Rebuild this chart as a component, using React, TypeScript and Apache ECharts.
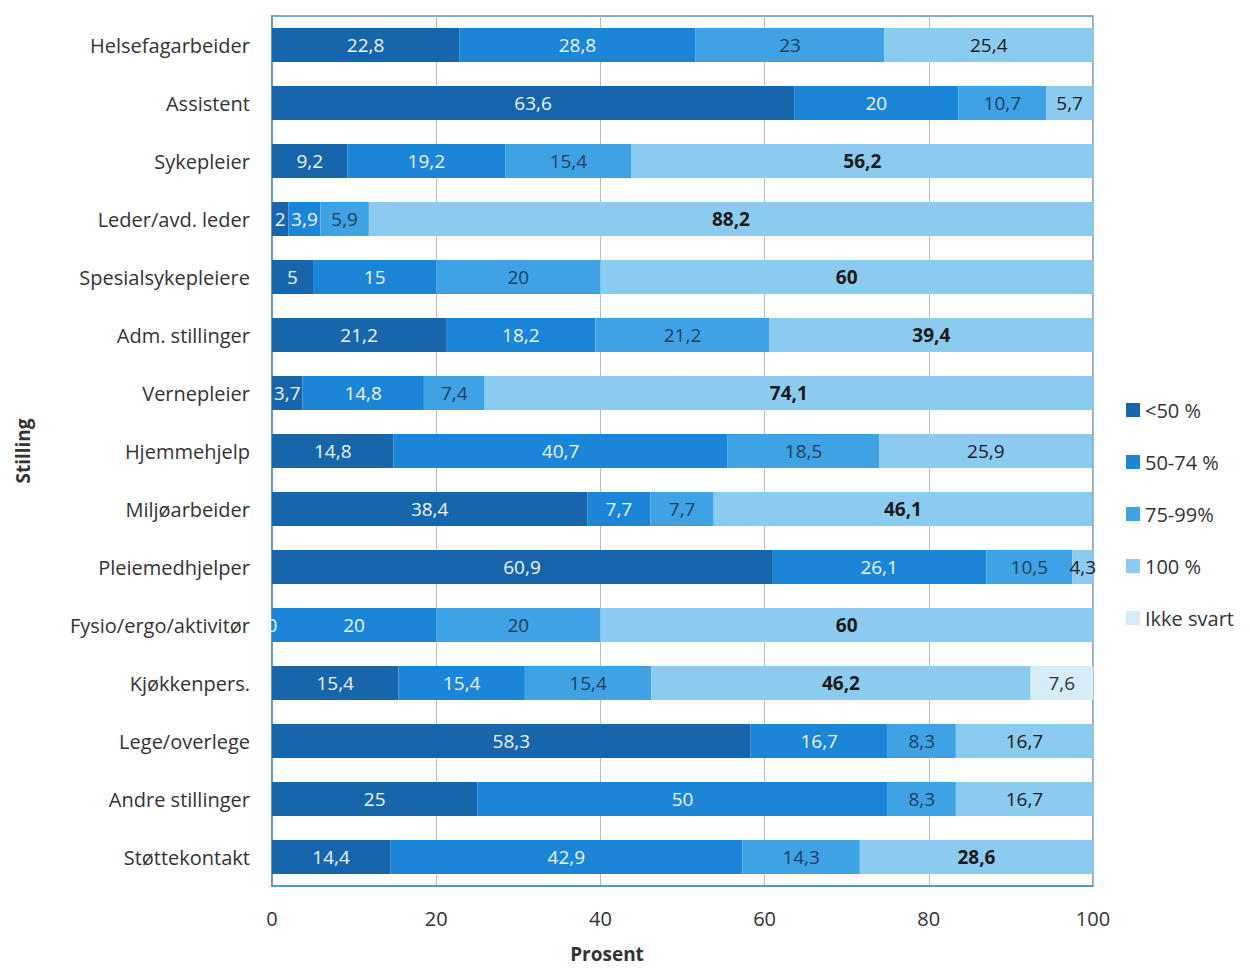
import React, { useEffect, useRef } from "react";
import * as echarts from "echarts";

const categories = [
  "Helsefagarbeider",
  "Assistent",
  "Sykepleier",
  "Leder/avd. leder",
  "Spesialsykepleiere",
  "Adm. stillinger",
  "Vernepleier",
  "Hjemmehjelp",
  "Miljøarbeider",
  "Pleiemedhjelper",
  "Fysio/ergo/aktivitør",
  "Kjøkkenpers.",
  "Lege/overlege",
  "Andre stillinger",
  "Støttekontakt",
];

const seriesNames = ["<50 %", "50-74 %", "75-99%", "100 %", "Ikke svart"];

const under50 = [22.8, 63.6, 9.2, 2, 5, 21.2, 3.7, 14.8, 38.4, 60.9, 0, 15.4, 58.3, 25, 14.4];
const p50to74 = [28.8, 20, 19.2, 3.9, 15, 18.2, 14.8, 40.7, 7.7, 26.1, 20, 15.4, 16.7, 50, 42.9];
const p75to99 = [23, 10.7, 15.4, 5.9, 20, 21.2, 7.4, 18.5, 7.7, 10.5, 20, 15.4, 8.3, 8.3, 14.3];
const p100 = [25.4, 5.7, 56.2, 88.2, 60, 39.4, 74.1, 25.9, 46.1, 4.3, 60, 46.2, 16.7, 16.7, 28.6];
const ikkeSvart = [null, null, null, null, null, null, null, null, null, null, null, 7.6, null, null, null];

const xTicks = [0, 20, 40, 60, 80, 100];
const xAxisTitle = "Prosent";
const yAxisTitle = "Stilling";

const colors = ["#1766ac", "#1b85d8", "#3ea2e4", "#8ccbf0", "#d6ecf8"];
const labelColors = ["#eef4fa", "#eef4fa", "#22405e", "#1a1a1a", "#333333"];

const FONT = "'Open Sans', 'Noto Sans', sans-serif";

export default function App() {
  const ref = useRef<HTMLDivElement>(null);
  useEffect(() => {
    if (!ref.current) return;
    const chart = echarts.init(ref.current, undefined, { renderer: "svg" });
    const all = [under50, p50to74, p75to99, p100, ikkeSvart];
    const series = all.map((arr, i) => ({
      name: seriesNames[i],
      type: "bar",
      stack: "total",
      barWidth: 34,
      data: arr.map((v) =>
        v === null
          ? "-"
          : {
              value: v,
              label: { fontWeight: i === 3 && v >= 28 ? "bold" : "normal" },
            }
      ),
      itemStyle: { color: colors[i] },
      label: {
        show: true,
        position: "inside",
        fontFamily: FONT,
        fontSize: 19,
        color: labelColors[i],
        formatter: (p: any) =>
          p.value === "-" || p.value === null || p.value === undefined
            ? ""
            : String(p.value).replace(".", ","),
      },
    }));
    chart.setOption({
      animation: false,
      textStyle: { fontFamily: FONT },
      grid: {
        left: 272,
        right: 157,
        top: 16,
        bottom: 82,
        outerBoundsMode: "none",
        containLabel: false,
        show: true,
        borderColor: "#4b93cc",
        borderWidth: 1.5,
      },
      legend: {
        orient: "vertical",
        left: 1121,
        top: 394,
        icon: "rect",
        itemWidth: 14,
        itemHeight: 14,
        itemGap: 30,
        data: seriesNames,
        textStyle: { fontSize: 20, color: "#333", lineHeight: 22, fontFamily: FONT },
      },
      graphic: [
        {
          type: "text",
          x: 607,
          y: 954,
          style: {
            text: xAxisTitle,
            fontFamily: FONT,
            fontSize: 19,
            fontWeight: "bold",
            fill: "#333",
            align: "center",
            verticalAlign: "middle",
          },
        },
      ],
      xAxis: {
        type: "value",
        min: xTicks[0],
        max: xTicks[xTicks.length - 1],
        interval: 20,
        axisLine: { show: true, lineStyle: { color: "#4b93cc", width: 1.5 } },
        axisTick: { show: false },
        axisLabel: { fontSize: 20, color: "#333", margin: 22, fontFamily: FONT },
        splitLine: { show: true, lineStyle: { color: "#bbbbbb" } },
      },
      yAxis: {
        type: "category",
        inverse: true,
        data: categories,
        name: yAxisTitle,
        nameLocation: "middle",
        nameRotate: 90,
        nameGap: 240,
        nameTextStyle: { fontSize: 19, fontWeight: "bold", color: "#333", fontFamily: FONT },
        axisLine: { show: true, lineStyle: { color: "#4b93cc", width: 1.5 } },
        axisTick: { show: false },
        axisLabel: { fontSize: 20, color: "#333", margin: 22, fontFamily: FONT },
      },
      series,
    });
    return () => chart.dispose();
  }, []);
  return (
    <div
      ref={ref}
      style={{ position: "fixed", left: 0, top: 0, width: 1250, height: 968, background: "#fff" }}
    />
  );
}
